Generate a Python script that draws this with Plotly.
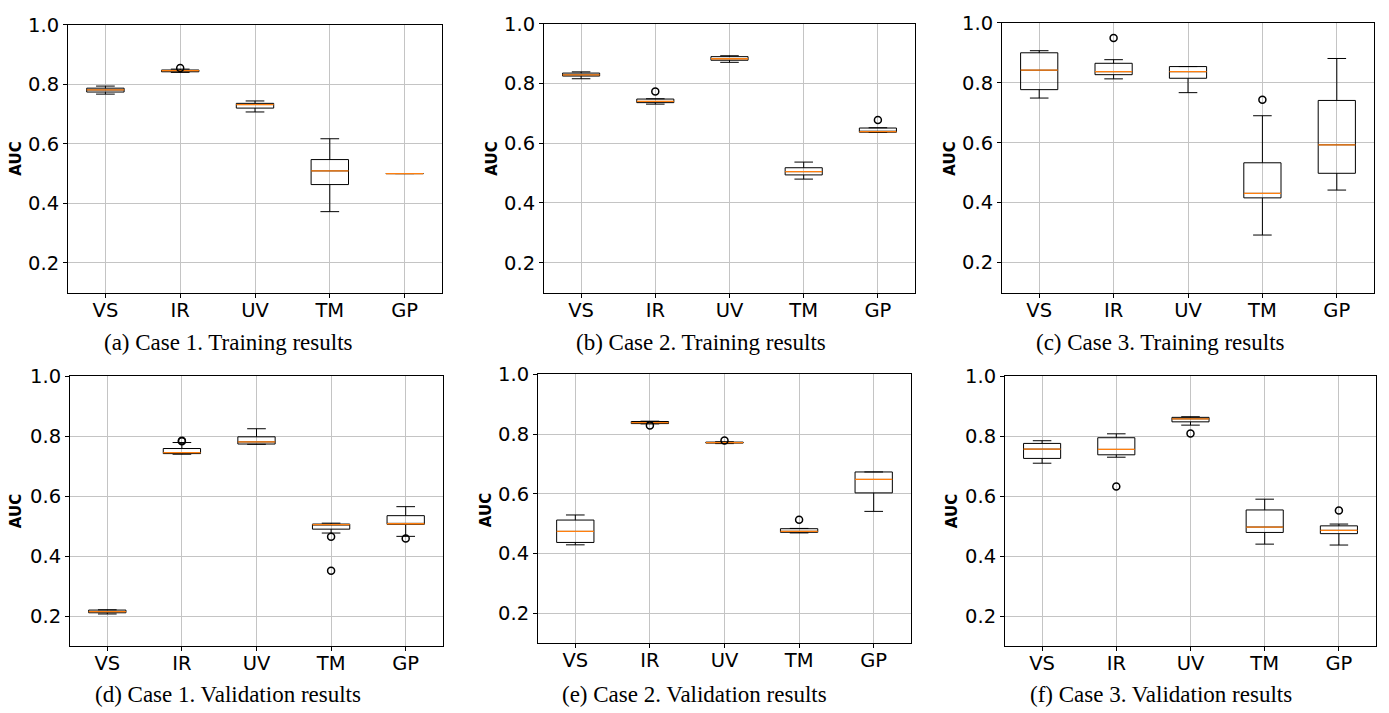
import plotly.graph_objects as go

W, H = 1389, 713

CATS = ["VS", "IR", "UV", "TM", "GP"]
YTICKS = [0.2, 0.4, 0.6, 0.8, 1.0]

# (a) Case 1 training
A_LO = [0.767, 0.840, 0.707, 0.372, 0.500]
A_Q1 = [0.774, 0.842, 0.720, 0.463, 0.500]
A_MED = [0.781, 0.846, 0.732, 0.509, 0.500]
A_Q3 = [0.787, 0.848, 0.736, 0.547, 0.500]
A_HI = [0.794, 0.851, 0.744, 0.617, 0.500]
A_OUT_X = ["IR"]
A_OUT_Y = [0.855]

# (b) Case 2 training
B_LO = [0.816, 0.731, 0.871, 0.480, 0.636]
B_Q1 = [0.825, 0.736, 0.878, 0.494, 0.637]
B_MED = [0.829, 0.740, 0.883, 0.505, 0.639]
B_Q3 = [0.835, 0.748, 0.890, 0.518, 0.651]
B_HI = [0.839, 0.749, 0.893, 0.537, 0.652]
B_OUT_X = ["IR", "GP"]
B_OUT_Y = [0.773, 0.678]

# (c) Case 3 training
C_LO = [0.749, 0.813, 0.767, 0.292, 0.442]
C_Q1 = [0.777, 0.827, 0.815, 0.416, 0.498]
C_MED = [0.842, 0.837, 0.837, 0.431, 0.593]
C_Q3 = [0.900, 0.865, 0.854, 0.533, 0.741]
C_HI = [0.907, 0.877, 0.854, 0.690, 0.881]
C_OUT_X = ["IR", "TM"]
C_OUT_Y = [0.949, 0.743]

# (d) Case 1 validation
D_LO = [0.207, 0.740, 0.773, 0.477, 0.466]
D_Q1 = [0.211, 0.742, 0.774, 0.490, 0.506]
D_MED = [0.215, 0.745, 0.781, 0.505, 0.508]
D_Q3 = [0.220, 0.759, 0.798, 0.507, 0.535]
D_HI = [0.221, 0.779, 0.825, 0.510, 0.565]
D_OUT_X = ["IR", "IR", "TM", "TM", "GP"]
D_OUT_Y = [0.783, 0.785, 0.465, 0.351, 0.459]

# (e) Case 2 validation
E_LO = [0.429, 0.834, 0.768, 0.469, 0.541]
E_Q1 = [0.437, 0.835, 0.770, 0.471, 0.603]
E_MED = [0.474, 0.838, 0.771, 0.474, 0.648]
E_Q3 = [0.512, 0.842, 0.773, 0.483, 0.673]
E_HI = [0.529, 0.843, 0.774, 0.484, 0.673]
E_OUT_X = ["IR", "UV", "TM"]
E_OUT_Y = [0.829, 0.778, 0.513]

# (f) Case 3 validation
F_LO = [0.710, 0.730, 0.837, 0.440, 0.437]
F_Q1 = [0.726, 0.738, 0.848, 0.479, 0.475]
F_MED = [0.757, 0.756, 0.858, 0.497, 0.486]
F_Q3 = [0.776, 0.795, 0.863, 0.554, 0.501]
F_HI = [0.785, 0.808, 0.865, 0.590, 0.507]
F_OUT_X = ["IR", "UV", "GP"]
F_OUT_Y = [0.632, 0.809, 0.552]

CAPTIONS = [
    "(a) Case 1. Training results",
    "(b) Case 2. Training results",
    "(c) Case 3. Training results",
    "(d) Case 1. Validation results",
    "(e) Case 2. Validation results",
    "(f) Case 3. Validation results",
]

panels = [
    (A_LO, A_Q1, A_MED, A_Q3, A_HI, A_OUT_X, A_OUT_Y),
    (B_LO, B_Q1, B_MED, B_Q3, B_HI, B_OUT_X, B_OUT_Y),
    (C_LO, C_Q1, C_MED, C_Q3, C_HI, C_OUT_X, C_OUT_Y),
    (D_LO, D_Q1, D_MED, D_Q3, D_HI, D_OUT_X, D_OUT_Y),
    (E_LO, E_Q1, E_MED, E_Q3, E_HI, E_OUT_X, E_OUT_Y),
    (F_LO, F_Q1, F_MED, F_Q3, F_HI, F_OUT_X, F_OUT_Y),
]

# pixel boxes of each plotting area: left, right, top, bottom
AREAS = [
    (68, 442, 14, 286),
    (544, 915, 13, 286),
    (1002, 1374, 12, 286),
    (70, 443, 371, 645),
    (538, 911, 369, 642),
    (1005, 1376, 371, 645),
]
YLABEL_POS = [(16, 150), (492, 150), (950, 150), (16, 508), (486, 507), (952, 508)]
CAPTION_POS = [(228, 337), (701, 337), (1160, 337), (228, 694), (694, 694), (1161, 694)]

ORANGE = "#ff7f0e"
TICKFONT = dict(family="DejaVu Sans", size=19.5, color="black")

fig = go.Figure()
layout = dict(
    width=W, height=H, margin=dict(l=0, r=0, t=0, b=0),
    paper_bgcolor="white", plot_bgcolor="white",
    boxmode="overlay", showlegend=False, annotations=[],
)

for i, (lo, q1, med, q3, hi, ox, oy) in enumerate(panels):
    n = "" if i == 0 else str(i + 1)
    xa, ya = "x" + n, "y" + n
    fig.add_trace(go.Box(
        x=CATS, q1=q1, median=med, q3=q3, lowerfence=lo, upperfence=hi,
        width=0.5, whiskerwidth=0.5, boxpoints=False,
        line=dict(color="black", width=1), fillcolor="rgba(0,0,0,0)",
        xaxis=xa, yaxis=ya, hoverinfo="skip"))
    fig.add_trace(go.Box(
        x=CATS, q1=med, median=med, q3=med, lowerfence=med, upperfence=med,
        width=0.5, whiskerwidth=0, boxpoints=False,
        line=dict(color=ORANGE, width=1.3), fillcolor="rgba(0,0,0,0)",
        xaxis=xa, yaxis=ya, hoverinfo="skip"))
    fig.add_trace(go.Scatter(
        x=ox, y=oy, mode="markers",
        marker=dict(symbol="circle-open", size=7, color="black", line=dict(width=1.5)),
        xaxis=xa, yaxis=ya, hoverinfo="skip"))

    l, r, t, b = AREAS[i]
    axcommon = dict(showline=True, linecolor="black", linewidth=1, mirror=True,
                    showgrid=True, gridcolor="#c4c4c4", gridwidth=1,
                    ticks="outside", ticklen=4, tickcolor="black",
                    tickfont=TICKFONT, zeroline=False)
    layout["xaxis" + n] = dict(axcommon, domain=[l / W, r / W], anchor=ya,
                               type="category", categoryorder="array",
                               categoryarray=CATS, range=[-0.5, 4.5],
                               ticklabelstandoff=-4)
    layout["yaxis" + n] = dict(axcommon, domain=[1 - b / H, 1 - t / H], anchor=xa,
                               range=[0.1, 1.0], tickvals=YTICKS, tickformat=".1f")
    lx, ly = YLABEL_POS[i]
    layout["annotations"].append(dict(
        text="<b>AUC</b>", x=lx / W, y=1 - ly / H, xref="paper", yref="paper",
        showarrow=False, textangle=-90, xanchor="center", yanchor="middle",
        font=dict(family="DejaVu Sans", size=15, color="black")))
    cx, cy = CAPTION_POS[i]
    layout["annotations"].append(dict(
        text=CAPTIONS[i], x=cx / W, y=1 - cy / H, xref="paper", yref="paper",
        showarrow=False, xanchor="center", yanchor="middle",
        font=dict(family="Liberation Serif", size=23, color="black")))

fig.update_layout(**layout)
fig.write_html("out.html", config={"displayModeBar": False},
               post_script="document.body.style.margin='0';")
